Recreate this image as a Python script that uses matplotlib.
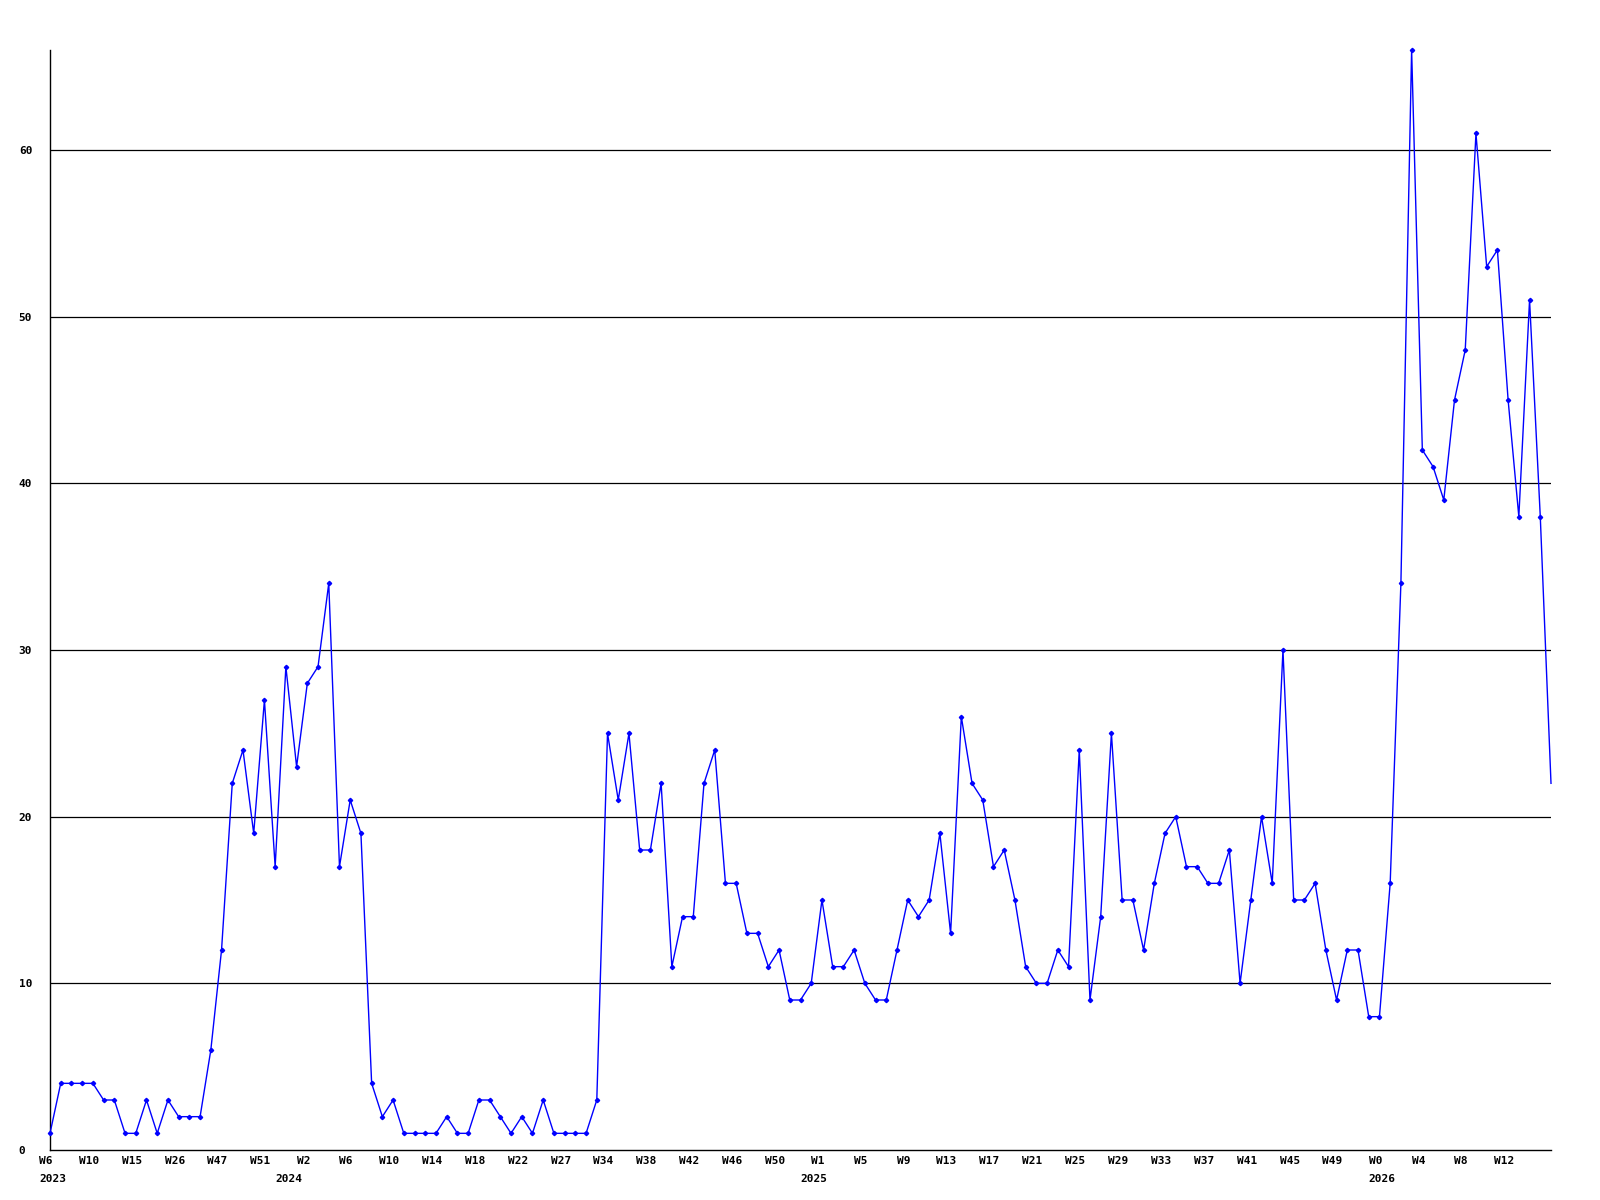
import matplotlib
matplotlib.use("Agg")
import matplotlib.pyplot as plt
from matplotlib.transforms import ScaledTranslation

# weekly counts, one per point (weeks with no data are skipped in 2023)
counts = [1, 4, 4, 4, 4, 3, 3, 1, 1, 3, 1, 3, 2, 2, 2, 6, 12, 22, 24, 19,
          27, 17, 29, 23, 28, 29, 34, 17, 21, 19, 4, 2, 3, 1,
          1, 1, 1, 2, 1, 1, 3, 3, 2, 1, 2, 1, 3, 1, 1, 1, 1, 3,
          25, 21, 25, 18, 18, 22, 11, 14, 14, 22, 24, 16, 16, 13, 13, 11, 12,
          9, 9, 10, 15, 11, 11, 12, 10, 9, 9, 12, 15, 14, 15, 19, 13, 26, 22,
          21, 17, 18, 15, 11, 10, 10, 12, 11, 24, 9, 14, 25, 15, 15, 12, 16,
          19, 20, 17, 17,
          16, 16, 18, 10, 15, 20, 16, 30, 15, 15, 16, 12, 9, 12, 12, 8, 8,
          16, 34, 66, 42, 41, 39, 45, 48, 61, 53, 54, 45, 38, 51, 38, 22]

week_labels = ['W6', 'W10', 'W15', 'W26', 'W47', 'W51', 'W2', 'W6', 'W10',
               'W14', 'W18', 'W22', 'W27', 'W34', 'W38', 'W42', 'W46', 'W50',
               'W1', 'W5', 'W9', 'W13', 'W17', 'W21', 'W25', 'W29', 'W33',
               'W37', 'W41', 'W45', 'W49', 'W0', 'W4', 'W8', 'W12']
label_step = 4

years = ['2023', '2024', '2025', '2026']
year_pos = [0, 22, 71, 124]   # index of first week shown for each year

x = list(range(len(counts)))

fig = plt.figure(figsize=(16, 12), dpi=100)
ax = fig.add_axes([50 / 1600, 50 / 1200, 1501 / 1600, 1100 / 1200])

for yv in range(10, 70, 10):
    ax.axhline(yv, color='black', lw=0.9, zorder=1)

ax.plot(x, counts, color='#0000ff', lw=1.0, marker='D', markersize=2.2,
        markevery=slice(0, len(counts) - 1), zorder=3, clip_on=False)

ax.set_xlim(0, len(counts) - 1)
ax.set_ylim(0, 66)

for s in ['top', 'right']:
    ax.spines[s].set_visible(False)
for s in ['left', 'bottom']:
    ax.spines[s].set_color('black')
    ax.spines[s].set_linewidth(1.0)

font = dict(family='DejaVu Sans Mono', weight='bold', size=8)

ax.set_yticks(range(0, 70, 10))
ax.set_yticklabels([str(v) for v in range(0, 70, 10)], ha='left', **font)
ax.tick_params(axis='y', length=0, pad=22.5)

ax.set_xticks(x[:len(week_labels) * label_step:label_step])
ax.set_xticklabels(week_labels, **font)
ax.tick_params(axis='x', length=0, pad=4)
shift = ScaledTranslation(-4 / 100, 0, fig.dpi_scale_trans)
for lab in ax.get_xticklabels():
    lab.set_transform(lab.get_transform() + shift)

# year under the first week of each year
for yr, p in zip(years, year_pos):
    ax.annotate(yr, xy=(p, 0), xycoords=('data', 'axes fraction'),
                xytext=(2, -17), textcoords='offset points',
                ha='center', va='top', **font)

fig.savefig('out.png', dpi=100)
